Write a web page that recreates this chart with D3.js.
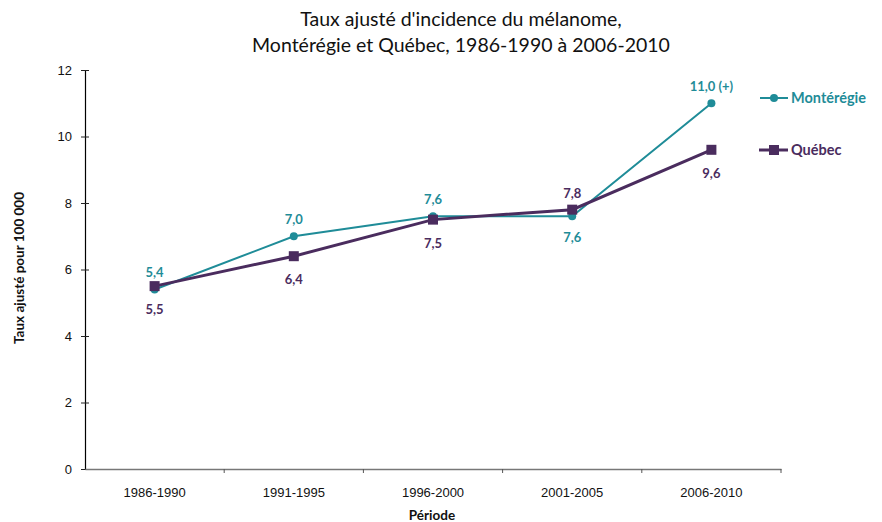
<!DOCTYPE html>
<html>
<head>
<meta charset="utf-8">
<script src="https://cdn.jsdelivr.net/npm/d3@7"></script>
<style>
  body { margin: 0; background: #fff; }
  svg { font-family: Lato, "Open Sans", sans-serif; }
</style>
</head>
<body>
<script>
var periodes = ["1986-1990", "1991-1995", "1996-2000", "2001-2005", "2006-2010"];
var monteregie = [5.4, 7.0, 7.6, 7.6, 11.0];
var quebec = [5.5, 6.4, 7.5, 7.8, 9.6];
var monteregieLabels = ["5,4", "7,0", "7,6", "7,6", "11,0 (+)"];
var quebecLabels = ["5,5", "6,4", "7,5", "7,8", "9,6"];
var yTicks = [0, 2, 4, 6, 8, 10, 12];

var w = 882, h = 522;
var teal = "#1f8c98", purple = "#4a2c5e";

var svg = d3.select("body").append("svg")
    .attr("width", w)
    .attr("height", h);

var x = d3.scaleBand().domain(periodes).range([85, 781]);
var y = d3.scaleLinear().domain([0, 12]).range([469, 70]);

// titre
svg.append("text").attr("x", 461).attr("y", 26).attr("text-anchor", "middle")
    .attr("font-size", "19.5px").attr("fill", "#111")
    .text("Taux ajusté d'incidence du mélanome,");
svg.append("text").attr("x", 461).attr("y", 52).attr("text-anchor", "middle")
    .attr("font-size", "19.5px").attr("fill", "#111")
    .text("Montérégie et Québec, 1986-1990 à 2006-2010");

// axe y
var yAxis = svg.append("g").attr("transform", "translate(85,0)")
    .call(d3.axisLeft(y).tickValues(yTicks).tickSize(4).tickSizeOuter(0).tickPadding(9));
yAxis.select(".domain").attr("stroke", "#000").attr("stroke-width", 1.2);
yAxis.selectAll(".tick line").attr("x2", 4).attr("x1", -4).attr("stroke", "#222");
yAxis.selectAll("text").attr("font-size", "13px").attr("fill", "#111");

// axe x
var xAxis = svg.append("g").attr("transform", "translate(0,469)")
    .call(d3.axisBottom(x).tickSize(0).tickPadding(19));
xAxis.select(".domain").attr("stroke", "#777").attr("stroke-width", 1.5);
xAxis.selectAll("text").attr("font-size", "13px").attr("fill", "#111");
xAxis.selectAll(".bound")
    .data(periodes)
    .enter().append("line")
    .attr("x1", function(d) { return x(d) + x.bandwidth(); })
    .attr("x2", function(d) { return x(d) + x.bandwidth(); })
    .attr("y1", 0).attr("y2", 4)
    .attr("stroke", "#555");

// titres des axes
svg.append("text").attr("transform", "translate(24,268) rotate(-90)")
    .attr("text-anchor", "middle").attr("font-size", "13.5px").attr("font-weight", "bold")
    .attr("fill", "#111").text("Taux ajusté pour 100 000");
svg.append("text").attr("x", 432).attr("y", 520)
    .attr("text-anchor", "middle").attr("font-size", "13.5px").attr("font-weight", "bold")
    .attr("fill", "#111").text("Période");

function cx(i) { return x(periodes[i]) + x.bandwidth() / 2; }

var line = d3.line()
    .x(function(d, i) { return cx(i); })
    .y(function(d) { return y(d); });

// Montérégie
svg.append("path").datum(monteregie).attr("d", line)
    .attr("fill", "none").attr("stroke", teal).attr("stroke-width", 2);
// Québec
svg.append("path").datum(quebec).attr("d", line)
    .attr("fill", "none").attr("stroke", purple).attr("stroke-width", 3);

svg.selectAll(".dot").data(monteregie).enter().append("circle")
    .attr("cx", function(d, i) { return cx(i); })
    .attr("cy", function(d) { return y(d); })
    .attr("r", 4).attr("fill", teal);

svg.selectAll(".sq").data(quebec).enter().append("rect")
    .attr("x", function(d, i) { return cx(i) - 5; })
    .attr("y", function(d) { return y(d) - 5; })
    .attr("width", 10).attr("height", 10)
    .attr("fill", purple);

// étiquettes (au-dessus / en dessous)
var monteregieAbove = [true, true, true, false, true];
svg.selectAll(".lm").data(monteregie).enter().append("text")
    .attr("x", function(d, i) { return cx(i); })
    .attr("y", function(d, i) { return monteregieAbove[i] ? y(d) - 12 : y(d) + 26; })
    .attr("text-anchor", "middle").attr("font-size", "13px").attr("font-weight", "bold")
    .attr("fill", teal)
    .text(function(d, i) { return monteregieLabels[i]; });

var quebecAbove = [false, false, false, true, false];
svg.selectAll(".lq").data(quebec).enter().append("text")
    .attr("x", function(d, i) { return cx(i); })
    .attr("y", function(d, i) { return quebecAbove[i] ? y(d) - 12 : y(d) + 28; })
    .attr("text-anchor", "middle").attr("font-size", "13px").attr("font-weight", "bold")
    .attr("fill", purple)
    .text(function(d, i) { return quebecLabels[i]; });

// légende
var lg = svg.append("g");
lg.append("line").attr("x1", 760).attr("x2", 788).attr("y1", 98).attr("y2", 98)
    .attr("stroke", teal).attr("stroke-width", 2);
lg.append("circle").attr("cx", 774).attr("cy", 98).attr("r", 4).attr("fill", teal);
lg.append("text").attr("x", 791).attr("y", 103).attr("font-size", "14.5px").attr("font-weight", "bold")
    .attr("fill", teal).text("Montérégie");
lg.append("line").attr("x1", 759).attr("x2", 788).attr("y1", 150).attr("y2", 150)
    .attr("stroke", purple).attr("stroke-width", 3);
lg.append("rect").attr("x", 769).attr("y", 145).attr("width", 10).attr("height", 10).attr("fill", purple);
lg.append("text").attr("x", 791).attr("y", 155).attr("font-size", "14.5px").attr("font-weight", "bold")
    .attr("fill", purple).text("Québec");
</script>
</body>
</html>
